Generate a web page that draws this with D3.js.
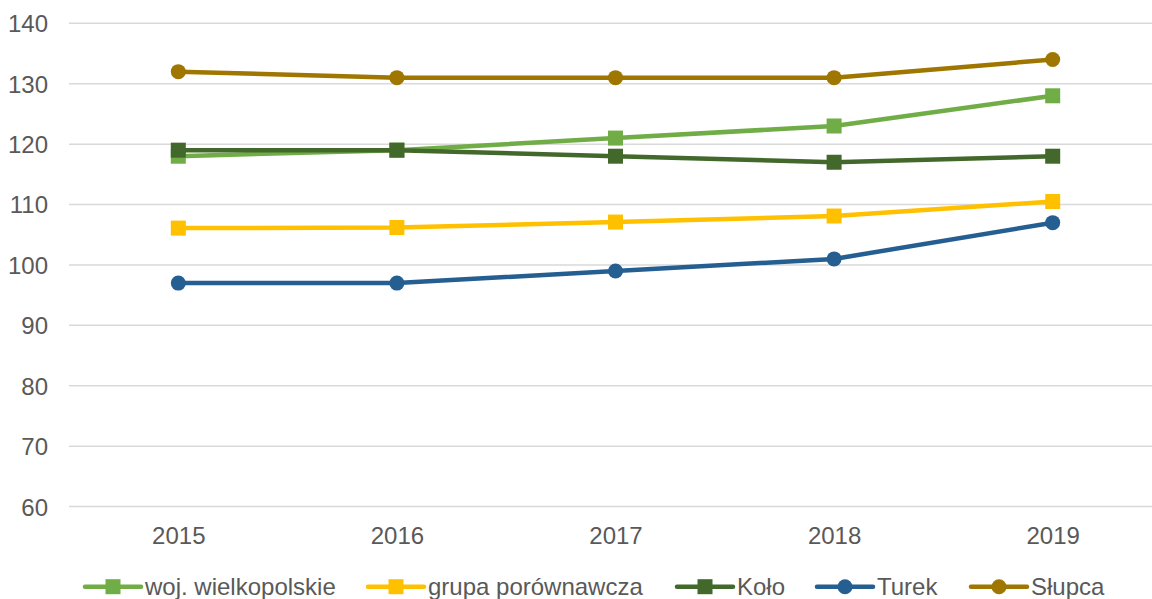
<!DOCTYPE html>
<html>
<head>
<meta charset="utf-8">
<script src="https://cdn.jsdelivr.net/npm/d3@7"></script>
<style>
  body { margin: 0; background: #fff; }
  svg { display: block; }
</style>
</head>
<body>
<div class="chart"></div>
<script>
const years = ["2015", "2016", "2017", "2018", "2019"];
const seriesNames = ["woj. wielkopolskie", "grupa porównawcza", "Koło", "Turek", "Słupca"];
const wojValues = [118, 119, 121, 123, 128];
const grupaValues = [106.1, 106.2, 107.1, 108.1, 110.5];
const koloValues = [119, 119, 118, 117, 118];
const turekValues = [97, 97, 99, 101, 107];
const slupcaValues = [132, 131, 131, 131, 134];
const yTicks = [60, 70, 80, 90, 100, 110, 120, 130, 140];

const colors = ["#70ad47", "#ffc000", "#43682b", "#255e91", "#9e7600"];
const markers = ["square", "square", "square", "circle", "circle"];
const allValues = [wojValues, grupaValues, koloValues, turekValues, slupcaValues];

const series = seriesNames.map(function(name, i) {
  return { name: name, values: allValues[i], color: colors[i], marker: markers[i] };
});

const width = 1152;
const height = 599;
const font = "'Liberation Sans', Arial, sans-serif";
const textColor = "#595959";

const svg = d3.select(".chart").append("svg")
  .attr("width", width)
  .attr("height", height);

const x = d3.scalePoint()
  .domain(years)
  .range([69, 1162])
  .padding(0.5);

const y = d3.scaleLinear()
  .domain([60, 140])
  .range([506.6, 23.3]);

// gridlines
svg.append("g")
  .selectAll("line")
  .data(yTicks)
  .enter()
  .append("line")
  .attr("x1", 69)
  .attr("x2", width)
  .attr("y1", function(d) { return y(d); })
  .attr("y2", function(d) { return y(d); })
  .attr("stroke", "#d9d9d9")
  .attr("stroke-width", 1.5);

// y axis labels
const yAxis = svg.append("g")
  .attr("transform", "translate(48,0)")
  .call(d3.axisLeft(y).tickValues(yTicks).tickSize(0).tickPadding(0));
yAxis.select(".domain").remove();
yAxis.selectAll("text")
  .attr("dy", "0.35em")
  .style("font-family", font)
  .style("font-size", "24px")
  .attr("fill", textColor);

// x axis labels
const xAxis = svg.append("g")
  .attr("transform", "translate(0,543.5)")
  .call(d3.axisBottom(x).tickSize(0).tickPadding(0));
xAxis.select(".domain").remove();
xAxis.selectAll("text")
  .attr("dy", 0)
  .style("font-family", font)
  .style("font-size", "24px")
  .attr("fill", textColor);

const line = d3.line()
  .x(function(d, i) { return x(years[i]); })
  .y(function(d) { return y(d); });

function drawMarker(g, s, cx, cy) {
  if (s.marker === "square") {
    g.append("rect")
      .attr("x", cx - 7.5)
      .attr("y", cy - 7.5)
      .attr("width", 15)
      .attr("height", 15)
      .attr("fill", s.color);
  } else {
    g.append("circle")
      .attr("cx", cx)
      .attr("cy", cy)
      .attr("r", 7.5)
      .attr("fill", s.color);
  }
}

series.forEach(function(s) {
  const g = svg.append("g");
  g.append("path")
    .attr("d", line(s.values))
    .attr("fill", "none")
    .attr("stroke", s.color)
    .attr("stroke-width", 4.5)
    .attr("stroke-linejoin", "round")
    .attr("stroke-linecap", "round");
  s.values.forEach(function(v, i) {
    drawMarker(g, s, x(years[i]), y(v));
  });
});

// Legend
const legendX = [85, 368, 677, 817, 971];
const legendY = 586.7;
series.forEach(function(s, i) {
  const g = svg.append("g")
    .attr("transform", "translate(" + legendX[i] + "," + legendY + ")");
  g.append("line")
    .attr("x1", 0)
    .attr("x2", 56)
    .attr("stroke", s.color)
    .attr("stroke-width", 4.5)
    .attr("stroke-linecap", "round");
  drawMarker(g, s, 28, 0);
  g.append("text")
    .attr("x", 60)
    .attr("y", 8)
    .style("font-family", font)
    .style("font-size", "24px")
    .attr("fill", textColor)
    .text(s.name);
});
</script>
</body>
</html>
